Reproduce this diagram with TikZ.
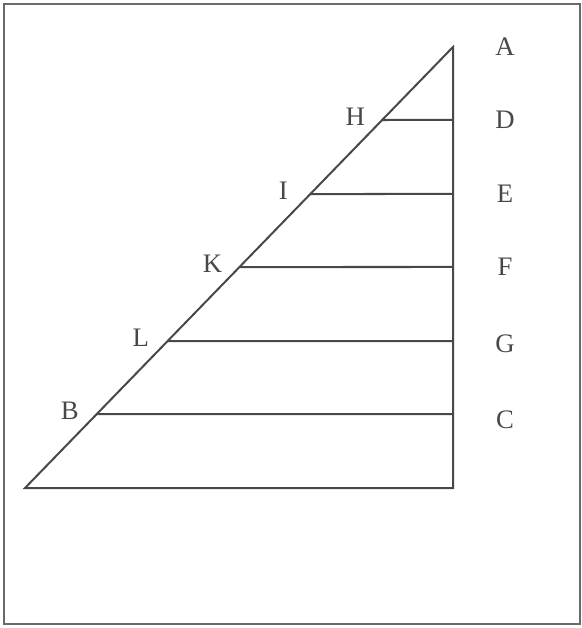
\documentclass[tikz,border=0pt]{standalone}
\usepackage{fontspec}
\setmainfont{Liberation Serif}
\usetikzlibrary{calc}
\definecolor{ink}{HTML}{484848}
\definecolor{rim}{HTML}{6A6A6A}
\newcommand{\lblsize}{\fontsize{19}{21}\selectfont}

\begin{document}
\begin{tikzpicture}[x=0.025cm,y=-0.025cm,font=\lblsize,
  edge/.style={draw=ink,line width=0.05cm},
  tag/.style={color=ink,inner sep=0pt}]
  \useasboundingbox (0,0) rectangle (582,628);
  %% outer frame
  \draw[draw=rim,line width=1.2pt] (4,4) rectangle (580,624);
  %% right triangle
  \coordinate (A) at (453,47);
  \coordinate (O) at (25,488);
  \coordinate (R) at (453,488);
  \draw[edge,line join=miter] (A) -- (O) -- (R) -- cycle;
  \node[tag] (labA) at ($(A)+(52,0)$) {A};
  %% parallels to the base, labels on both ends
  \foreach \y/\rgt/\lft/\dy in {120/D/H/0, 194/E/I/0, 267/F/K/0, 341/G/L/3, 414/C/B/6}{
    \coordinate (\rgt) at (453,\y);
    \coordinate (\lft) at ($(O)!{(488-\y)/441}!(A)$);
    \draw[edge] (\lft) -- (\rgt);
    \node[tag] (lab\rgt) at ($(\rgt)+(52,\dy)$) {\rgt};
    \node[tag] (lab\lft) at ($(\lft)+(-27,-3)$) {\lft};
  }
\end{tikzpicture}
\end{document}
